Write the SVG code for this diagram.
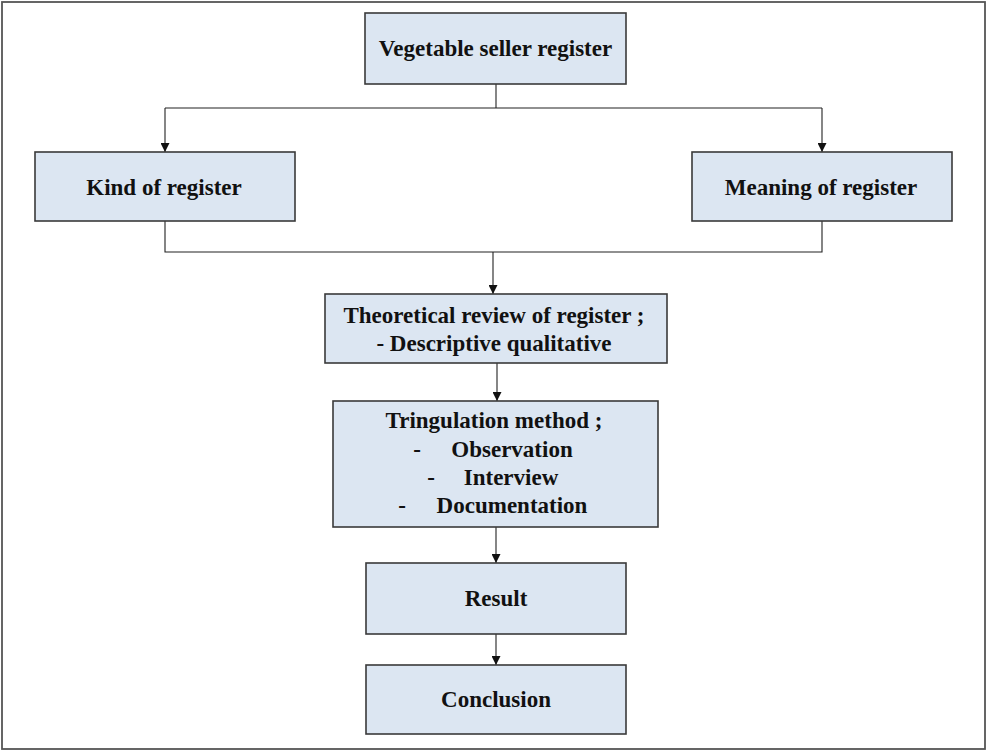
<svg xmlns="http://www.w3.org/2000/svg" width="988" height="751" viewBox="0 0 988 751">
<defs>
<marker id="arr" viewBox="0 0 10 10" refX="10" refY="5" markerWidth="9" markerHeight="9" markerUnits="userSpaceOnUse" orient="auto">
<path d="M0,0 L10,5 L0,10 Z" fill="#111"/>
</marker>
</defs>
<style>
.box{fill:#dce6f2;stroke:#3a3a3a;stroke-width:1.6}
.t{font-family:"Liberation Serif","Times New Roman",serif;font-weight:bold;font-size:23px;fill:#111;text-anchor:middle}
.ln{fill:none;stroke:#222;stroke-width:1.1}
</style>
<rect x="2" y="2" width="983" height="747" fill="#fff" stroke="#555" stroke-width="1.8"/>
<g id="connectors">
<path class="ln" d="M496,84 V108"/>
<path class="ln" d="M165,108 H822"/>
<path class="ln" d="M165,108 V152" marker-end="url(#arr)"/>
<path class="ln" d="M822,108 V152" marker-end="url(#arr)"/>
<path class="ln" d="M165,221 V252 H822 V221"/>
<path class="ln" d="M493,252 V294" marker-end="url(#arr)"/>
<path class="ln" d="M497,363 V401" marker-end="url(#arr)"/>
<path class="ln" d="M496,527 V563" marker-end="url(#arr)"/>
<path class="ln" d="M496,634 V665" marker-end="url(#arr)"/>
</g>
<g id="n-vegetable">
<rect class="box" x="365" y="13" width="261" height="71"/>
<text class="t" x="495.5" y="56">Vegetable seller register</text>
</g>
<g id="n-kind">
<rect class="box" x="35" y="152" width="260" height="69"/>
<text class="t" x="164" y="195">Kind  of register</text>
</g>
<g id="n-meaning">
<rect class="box" x="692" y="152" width="260" height="69"/>
<text class="t" x="821" y="195">Meaning of register</text>
</g>
<g id="n-theory">
<rect class="box" x="325" y="294" width="342" height="69"/>
<text class="t" x="494" y="323">Theoretical review of register ;</text>
<text class="t" x="494" y="351">- Descriptive qualitative</text>
</g>
<g id="n-tring">
<rect class="box" x="333" y="401" width="325" height="126"/>
<text class="t" x="494" y="428">Tringulation method ;</text>
<text class="t" x="417" y="457">-</text>
<text class="t" x="512" y="457">Observation</text>
<text class="t" x="431" y="485">-</text>
<text class="t" x="511" y="485">Interview</text>
<text class="t" x="402" y="513">-</text>
<text class="t" x="512" y="513">Documentation</text>
</g>
<g id="n-result">
<rect class="box" x="366" y="563" width="260" height="71"/>
<text class="t" x="496" y="606">Result</text>
</g>
<g id="n-conclusion">
<rect class="box" x="366" y="665" width="260" height="69"/>
<text class="t" x="496" y="707">Conclusion</text>
</g>
</svg>
